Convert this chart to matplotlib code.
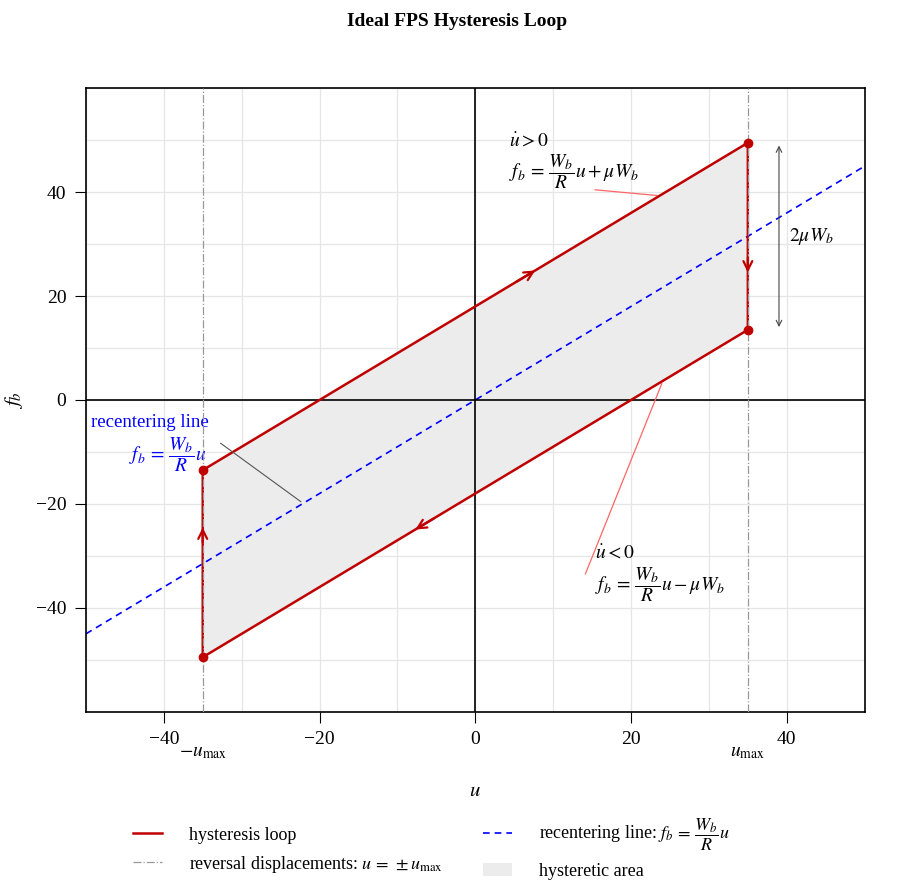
import numpy as np
import matplotlib.pyplot as plt
from matplotlib.patches import Patch
from matplotlib.lines import Line2D

plt.rcParams['font.family'] = ['Liberation Serif', 'DejaVu Serif']
plt.rcParams['mathtext.fontset'] = 'stix'

# loop corners (u, f_b), going round the loop
loop_u = [-35, 35, 35, -35, -35]
loop_f = [-13.5, 49.5, 13.5, -49.5, -13.5]
# recentering line end points
rc_u = [-50, 50]
rc_f = [-45, 45]
u_max = 35
# direction arrows: (tail, head)
arrows = [((5, 22.5), (8, 25.2)),
          ((-5, -22.5), (-8, -25.2)),
          ((35, 28), (35, 24)),
          ((-35, -28), (-35, -24))]

red = '#c00000'

fig = plt.figure(figsize=(9.14, 8.82), dpi=100)
ax = fig.add_axes([0.094, 0.193, 0.852, 0.707])

ax.fill(loop_u, loop_f, color='#ececec', zorder=1)
ax.plot(loop_u, loop_f, color=red, lw=1.8, zorder=3)
ax.plot(rc_u, rc_f, color='blue', lw=1.2, ls=(0, (4, 3)), zorder=2)
for x in (-u_max, u_max):
    ax.axvline(x, color='#999999', lw=0.9, ls='-.', zorder=4)
ax.scatter([-35, 35, 35, -35], [-13.5, 49.5, 13.5, -49.5], s=36, color=red, zorder=5)
for tail, head in arrows:
    ax.annotate('', xy=head, xytext=tail,
                arrowprops=dict(arrowstyle='->', color=red, lw=1.6, mutation_scale=16), zorder=5)

ax.axhline(0, color='black', lw=1.2, zorder=2)
ax.axvline(0, color='black', lw=1.2, zorder=2)

# 2 mu W_b span
ax.annotate('', xy=(39, 49.5), xytext=(39, 13.5),
            arrowprops=dict(arrowstyle='<->', color='#444444', lw=0.8))
ax.text(40.3, 31.5, r'$2\mu W_b$', fontsize=14, va='center')

# branch labels
ax.annotate('', xy=(23.7, 39.3), xytext=(15, 40.5),
            arrowprops=dict(arrowstyle='-', color='#ff6666', lw=0.9))
ax.text(4.3, 49.8, r'$\dot{u} > 0$', fontsize=14, va='center')
ax.text(4.3, 44.0, r'$f_b\,=\,\dfrac{W_b}{R}u + \mu W_b$', fontsize=14, va='center')
ax.annotate('', xy=(24.1, 3.7), xytext=(14, -34),
            arrowprops=dict(arrowstyle='-', color='#ff6666', lw=0.9))
ax.text(15.4, -29.6, r'$\dot{u} < 0$', fontsize=14, va='center')
ax.text(15.4, -35.5, r'$f_b\,=\,\dfrac{W_b}{R}u - \mu W_b$', fontsize=14, va='center')

# recentering label
ax.annotate('', xy=(-22.1, -19.9), xytext=(-33, -8),
            arrowprops=dict(arrowstyle='-', color='#555555', lw=0.8))
ax.text(-49.3, -4.3, 'recentering line', fontsize=13.5, color='blue', va='center')
ax.text(-44.5, -10.5, r'$f_b\,=\,\dfrac{W_b}{R}u$', fontsize=14, color='blue', va='center')

ax.set_xlim(-50, 50)
ax.set_ylim(-60, 60)
ax.set_xticks([-40, -20, 0, 20, 40])
ax.set_yticks([-40, -20, 0, 20, 40])
ax.set_xticks(np.arange(-50, 51, 10), minor=True)
ax.set_yticks(np.arange(-60, 61, 10), minor=True)
ax.tick_params(axis='both', which='major', direction='out', length=8, labelsize=14, pad=6)
ax.tick_params(axis='both', which='minor', length=0)
ax.grid(True, which='both', color='#e6e6e6', lw=0.9, zorder=0)
ax.set_axisbelow(True)
for s in ax.spines.values():
    s.set_linewidth(1.2)

trans = ax.get_xaxis_transform()
ax.text(-u_max, -0.052, r'$-u_{\max}$', transform=trans, ha='center', va='top', fontsize=14)
ax.text(u_max, -0.052, r'$u_{\max}$', transform=trans, ha='center', va='top', fontsize=14)

ax.set_xlabel(r'$u$', fontsize=15, labelpad=24)
ax.set_ylabel(r'$f_b$', fontsize=15, labelpad=8)
fig.suptitle('Ideal FPS Hysteresis Loop', fontsize=14, fontweight='bold', y=0.985)

handles = [Line2D([], [], color=red, lw=1.8),
           Line2D([], [], color='#999999', lw=0.9, ls='-.'),
           Line2D([], [], color='blue', lw=1.2, ls=(0, (4, 3))),
           Patch(facecolor='#ececec', edgecolor='none')]
labels = ['hysteresis loop',
          r'reversal displacements: $u\,=\,\pm u_{\max}$',
          r'recentering line: $f_b\,=\,\dfrac{W_b}{R}u$',
          'hysteretic area']
fig.legend(handles, labels, ncol=2, loc='upper center', bbox_to_anchor=(0.472, 0.092),
           frameon=False, fontsize=13, columnspacing=2.2, handlelength=1.6,
           handletextpad=1.5, labelspacing=0.55)

fig.savefig('out.png', dpi=100)
